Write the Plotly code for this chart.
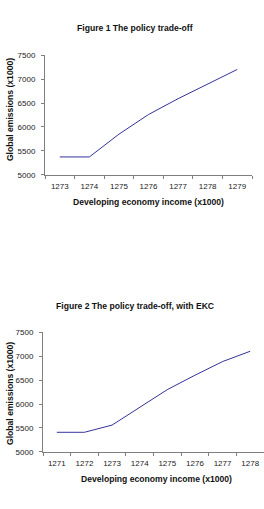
import plotly.graph_objects as go

# Figure 1 data
income1 = ["1273", "1274", "1275", "1276", "1277", "1278", "1279"]
emissions1 = [5375, 5375, 5850, 6260, 6590, 6890, 7200]

# Figure 2 data
income2 = ["1271", "1272", "1273", "1274", "1275", "1276", "1277", "1278"]
emissions2 = [5410, 5410, 5560, 5930, 6300, 6600, 6885, 7100]

title1 = "Figure 1 The policy trade-off"
title2 = "Figure 2 The policy trade-off, with EKC"
xtitle = "Developing economy income (x1000)"
ytitle = "Global emissions (x1000)"
yticks = [5000, 5500, 6000, 6500, 7000, 7500]

W, H = 264, 509
LINE = "#333399"
AXC = "#7f7f7f"
FONT = "Liberation Sans, Arial, sans-serif"

fig = go.Figure()
fig.add_trace(go.Scatter(x=income1, y=emissions1, mode="lines",
                         line=dict(color=LINE, width=1), xaxis="x", yaxis="y",
                         showlegend=False, hoverinfo="skip"))
fig.add_trace(go.Scatter(x=income2, y=emissions2, mode="lines",
                         line=dict(color=LINE, width=1), xaxis="x2", yaxis="y2",
                         showlegend=False, hoverinfo="skip"))

def px_x(v):
    return v / W

def px_y(v):
    return (H - v) / H

xcommon = dict(type="category", showline=True, linecolor=AXC, linewidth=1,
               ticks="outside", ticklen=3, tickcolor=AXC, tickson="boundaries",
               showgrid=False, zeroline=False, ticklabelstandoff=3,
               tickfont=dict(family=FONT, size=8, color="#222"), fixedrange=True)
ycommon = dict(range=[5000, 7500], tickvals=yticks, showline=True, linecolor=AXC,
               linewidth=1, ticks="outside", ticklen=3, tickcolor=AXC,
               showgrid=False, zeroline=False, ticklabelstandoff=4,
               tickfont=dict(family=FONT, size=8, color="#222"), fixedrange=True)

fig.update_layout(
    width=W, height=H,
    margin=dict(l=0, r=0, t=0, b=0),
    paper_bgcolor="white", plot_bgcolor="white",
    xaxis=dict(domain=[px_x(45), px_x(252)], anchor="y",
               range=[-0.5, len(income1) - 0.5], **xcommon),
    yaxis=dict(domain=[px_y(174), px_y(52)], anchor="x", **ycommon),
    xaxis2=dict(domain=[px_x(43), 1.0], anchor="y2",
                range=[-0.5, len(income2) - 0.5], **xcommon),
    yaxis2=dict(domain=[px_y(456), px_y(334)], anchor="x2", **ycommon),
)

def ann(text, x, y, size, angle=0):
    fig.add_annotation(text=text, x=px_x(x), y=px_y(y), xref="paper", yref="paper",
                       xanchor="center", yanchor="middle", showarrow=False,
                       textangle=angle,
                       font=dict(family=FONT, size=size, color="#111"))

ann("<b>" + title1 + "</b>", 135, 24, 8.6)
ann("<b>" + ytitle + "</b>", 10, 108, 8.6, -90)
ann("<b>" + xtitle + "</b>", 148, 202, 8.6)
ann("<b>" + title2 + "</b>", 135, 307, 8.6)
ann("<b>" + ytitle + "</b>", 10, 397, 8.6, -90)
ann("<b>" + xtitle + "</b>", 156, 484, 8.6)

fig.write_html("out.html")
